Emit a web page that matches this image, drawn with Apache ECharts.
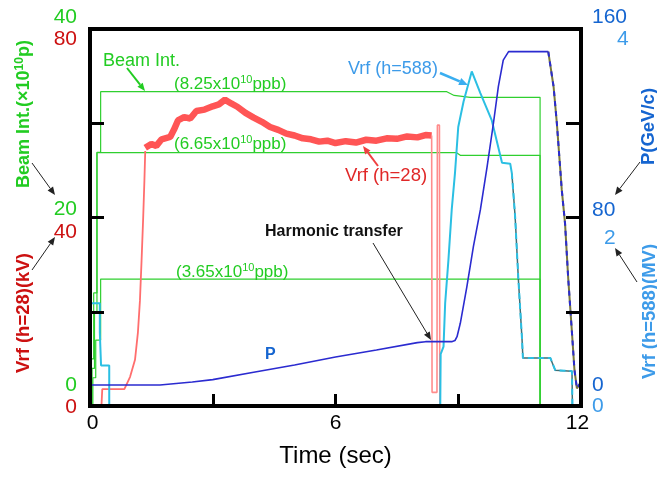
<!DOCTYPE html>
<html><head><meta charset="utf-8">
<script src="https://cdn.jsdelivr.net/npm/echarts@6/dist/echarts.min.js"></script>
<style>html,body{margin:0;padding:0;background:#fff}#c{width:657px;height:477px}</style>
</head><body><div id="c"></div>
<script>
const FONT = "'Liberation Sans', Arial, sans-serif";

// ---- axis tick labels ----
const xTickLabels = {0: '0', 6: '6', 12: '12'};
const beamTickLabels = {0: '0', 20: '20', 40: '40'};
const vrf28TickLabels = {0: '0', 40: '40', 80: '80'};
const pTickLabels = {0: '0', 80: '80', 160: '160'};
const vrf588TickLabels = {0: '0', 2: '2', 4: '4'};

// ---- Beam intensity (x10^10 p), three runs ----
const beamHigh = [[0,0],[0.03,0],[0.03,5],[0.09,5],[0.09,12],[0.17,12],[0.17,26.9],[0.26,26.9],[0.26,33.35],[8.72,33.35],[8.9,32.95],[9.29,32.75],[11.0,32.75],[11.0,0],[12,0]];
const beamMid = [[0,0],[0.05,0],[0.05,4],[0.11,4],[0.11,10],[0.17,10],[0.17,26.88],[8.96,26.88],[9.05,26.6],[11.0,26.6],[11.0,0],[12,0]];
const beamLow = [[0,0],[0.07,0],[0.07,3],[0.14,3],[0.14,7],[0.26,7],[0.26,13.47],[11.0,13.47],[11.0,0],[12,0]];

// ---- Vrf (h=28) kV ----
const vrf28Rise = [[0,0],[0.28,0],[0.30,3.6],[0.84,3.6],[0.98,6.2],[1.1,9.8],[1.17,15.5],[1.22,22.3],[1.26,30.8],[1.30,40],[1.33,47.9],[1.35,54.1]];
const vrf28Plateau = [[1.35,54.8],[1.5,55.6],[1.62,55.2],[1.75,56.6],[1.96,57.1],[2.05,58.6],[2.15,60.6],[2.3,61.3],[2.45,61.0],[2.6,62.6],[2.8,62.9],[3.0,63.6],[3.15,64.0],[3.3,65.0],[3.45,64.2],[3.6,63.5],[3.8,62.2],[4.0,61.2],[4.2,60.3],[4.4,59.2],[4.6,58.6],[4.8,57.8],[5.0,57.4],[5.2,56.8],[5.4,56.6],[5.6,56.1],[5.8,56.3],[6.0,55.8],[6.25,56.2],[6.5,55.9],[6.75,56.5],[7.0,56.3],[7.25,56.8],[7.5,56.7],[7.75,57.2],[8.0,57.0],[8.2,57.5],[8.35,57.4]];
const vrf28Transfer = [[8.35,57.4],[8.36,2.9],[8.48,2.9],[8.49,59.6],[8.54,59.6],[8.55,0],[12,0]];

// ---- Vrf (h=588) MV ----
const vrf588Main = [[0,1.09],[0.24,1.09],[0.24,0.78],[0.27,0.78],[0.27,0.43],[0.47,0.43],[0.47,0],[8.56,0],[8.57,0.55],[8.64,0.63],[8.68,1.09],[8.76,1.55],[8.84,2.08],[8.92,2.47],[9.0,2.96],[9.13,3.23],[9.33,3.55],[9.54,3.32],[9.82,3.03],[10.07,2.58],[10.27,2.57],[10.31,2.47]];
const vrf588Tail = [[10.31,2.47],[10.39,2.01],[10.47,1.34],[10.56,0.70],[10.58,0.51],[11.25,0.51],[11.37,0.38],[11.78,0.37],[11.79,0],[12,0]];

// ---- P (GeV/c) ----
const pMain = [[0,8.9],[1.71,8.9],[1.72,9.5],[2.5,10.2],[3.0,11.2],[4.0,14.3],[5.0,17.4],[6.0,20.8],[7.0,23.8],[8.0,26.9],[8.2,27.3],[8.84,27.3],[8.92,27.8],[8.97,29.4],[9.05,35.1],[9.21,50.6],[9.37,67.6],[9.54,83.2],[9.70,101],[9.86,120],[9.98,135.5],[10.1,146.8],[10.23,150.4],[11.2,150.4]];
const pTail = [[11.2,150.4],[11.33,135.5],[11.41,120],[11.53,91.7],[11.61,77.5],[11.69,53.5],[11.78,30.9],[11.84,15.3],[11.9,7.5],[11.98,9.6]];

const GREEN = '#22cc22', RED = '#cc1111', PBLUE = '#1565d0', LBLUE = '#3d9be9';

function labelAxis(map, color, styles, align) {
  const rich = {};
  Object.keys(styles).forEach(k => {
    rich['v' + k] = {fontSize: 21, fontFamily: FONT, color: color, padding: styles[k], align: align};
  });
  return {
    show: true, showMinLabel: true, showMaxLabel: true,
    fontSize: 21, fontFamily: FONT, color: color,
    formatter: v => (map[v] !== undefined ? '{v' + v + '|' + map[v] + '}' : ''),
    rich: rich
  };
}

function arrow(x1, y1, x2, y2, color, w, head) {
  const L = head || 8, W = L * 0.42;
  const a = Math.atan2(y2 - y1, x2 - x1);
  const bx = x2 - L * Math.cos(a), by = y2 - L * Math.sin(a);
  const px = -Math.sin(a) * W, py = Math.cos(a) * W;
  return [
    {type: 'line', z: 100, shape: {x1: x1, y1: y1, x2: bx, y2: by}, style: {stroke: color, lineWidth: w}},
    {type: 'polygon', z: 100, shape: {points: [[x2, y2], [bx + px, by + py], [bx - px, by - py]]}, style: {fill: color}}
  ];
}
function txt(x, y, text, rich, align, rot) {
  return {type: 'text', z: 100, x: x, y: y, rotation: rot || 0,
    style: {text: text, rich: rich, align: align || 'left', verticalAlign: 'middle', textAlign: align || 'left', textVerticalAlign: 'middle'}};
}
function supRich(color, size, supSize, weight) {
  return {
    n: {fontSize: size, fontFamily: FONT, fontWeight: weight || 'normal', fill: color, color: color, lineHeight: size + 2, verticalAlign: 'middle'},
    s: {fontSize: supSize, fontFamily: FONT, fontWeight: weight || 'normal', fill: color, color: color, lineHeight: supSize, verticalAlign: 'top'}
  };
}

const chart = echarts.init(document.getElementById('c'), null, {renderer: 'canvas'});

function line(data, yIdx, color, width, extra) {
  return Object.assign({
    type: 'line', data: data, xAxisIndex: 0, yAxisIndex: yIdx, showSymbol: false, symbol: 'none',
    lineStyle: {color: color, width: width}, silent: true, animation: false, z: 2
  }, extra || {});
}

const graphics = [].concat(
  // axis titles
  txt(24, 114, '{n|Beam Int.(×10}{s|10}{n|p)}', supRich(GREEN, 18, 12, 'bold'), 'center', Math.PI / 2),
  txt(24, 313, '{n|Vrf (h=28)(kV)}', supRich(RED, 18.5, 12, 'bold'), 'center', Math.PI / 2),
  txt(649, 126.5, '{n|P(GeV/c)}', supRich(PBLUE, 18.5, 12, 'bold'), 'center', Math.PI / 2),
  txt(649.5, 311.5, '{n|Vrf (h=588)(MV)}', supRich(LBLUE, 18.5, 12, 'bold'), 'center', Math.PI / 2),
  arrow(32, 163, 55, 195, '#222', 1, 8),
  arrow(32, 270, 55, 237, '#222', 1, 8),
  arrow(640, 162, 615, 195, '#222', 1, 8),
  arrow(637, 282, 615, 248, '#222', 1, 8),
  // in-plot annotations
  txt(103, 61, '{n|Beam Int.}', supRich(GREEN, 18, 11), 'left'),
  arrow(127, 68, 145, 91, GREEN, 2, 8),
  txt(174, 84, '{n|(8.25x10}{s|10}{n|ppb)}', supRich(GREEN, 17, 11), 'left'),
  txt(174, 144, '{n|(6.65x10}{s|10}{n|ppb)}', supRich(GREEN, 17, 11), 'left'),
  txt(176, 272, '{n|(3.65x10}{s|10}{n|ppb)}', supRich(GREEN, 17, 11), 'left'),
  txt(345, 176, '{n|Vrf (h=28)}', supRich('#e02828', 18.5, 11), 'left'),
  arrow(378, 166, 363, 146, '#f04040', 2, 8),
  txt(348, 69, '{n|Vrf (h=588)}', supRich(LBLUE, 18, 11), 'left'),
  arrow(440, 73, 468, 85, '#3aaef0', 2.5, 9),
  txt(265, 232, '{n|Harmonic transfer}', supRich('#111', 16, 11, 'bold'), 'left'),
  arrow(373, 243, 431, 340, '#222', 1, 8),
  txt(265, 355, '{n|P}', supRich(PBLUE, 16, 11, 'bold'), 'left')
);

chart.setOption({
  animation: false,
  backgroundColor: '#fff',
  grid: {left: 90, right: 76, top: 29, bottom: 71, show: true, borderColor: '#000', borderWidth: 4, backgroundColor: 'transparent', containLabel: false, outerBoundsMode: 'none'},
  xAxis: [
    {type: 'value', min: 0, max: 12, interval: 3, position: 'bottom', z: 10,
      axisLine: {show: true, lineStyle: {color: '#000', width: 4}},
      axisTick: {show: true, inside: true, length: 12, lineStyle: {color: '#000', width: 3}},
      splitLine: {show: false},
      axisLabel: {show: true, fontSize: 21, fontFamily: FONT, color: '#000', margin: 7,
        formatter: v => (xTickLabels[v] !== undefined ? '{v' + v + '|' + xTickLabels[v] + '}' : ''),
        rich: {
          v0: {fontSize: 21, fontFamily: FONT, color: '#000', padding: [0, 0, 0, 5]},
          v6: {fontSize: 21, fontFamily: FONT, color: '#000'},
          v12: {fontSize: 21, fontFamily: FONT, color: '#000', padding: [0, 7, 0, 0]}
        }},
      name: 'Time (sec)', nameLocation: 'middle', nameGap: 38,
      nameTextStyle: {fontSize: 24, fontFamily: FONT, color: '#000'}},
    {type: 'value', min: 0, max: 12, position: 'top', z: 10,
      axisLine: {show: true, lineStyle: {color: '#000', width: 4}},
      axisTick: {show: false}, axisLabel: {show: false}, splitLine: {show: false}}
  ],
  yAxis: [
    {type: 'value', min: 0, max: 80, interval: 20, position: 'left', z: 10,
      axisLine: {show: true, lineStyle: {color: '#000', width: 4}},
      axisTick: {show: true, inside: true, length: 14, lineStyle: {color: '#000', width: 3}},
      splitLine: {show: false},
      axisLabel: Object.assign(labelAxis(vrf28TickLabels, RED, {0: [2, 0, 0, 0], 40: [29, 0, 0, 0], 80: [21, 0, 0, 0]}, 'right'), {margin: 13})},
    {type: 'value', min: 0, max: 40, interval: 20, position: 'left', z: 10,
      axisLine: {show: false}, axisTick: {show: false}, splitLine: {show: false},
      axisLabel: Object.assign(labelAxis(beamTickLabels, GREEN, {0: [0, 0, 42, 0], 20: [0, 0, 17, 0], 40: [0, 0, 23, 0]}, 'right'), {margin: 13})},
    {type: 'value', min: 0, max: 160, interval: 80, position: 'right', z: 10,
      axisLine: {show: false}, axisTick: {show: false}, splitLine: {show: false},
      axisLabel: Object.assign(labelAxis(pTickLabels, PBLUE, {0: [0, 0, 42, 0], 80: [0, 0, 15, 0], 160: [0, 0, 24, 0]}, 'left'), {margin: 11})},
    {type: 'value', min: 0, max: 4, interval: 1, position: 'right', z: 10,
      axisLine: {show: true, lineStyle: {color: '#000', width: 4}},
      axisTick: {show: true, inside: true, length: 15, lineStyle: {color: '#000', width: 3}},
      splitLine: {show: false},
      axisLabel: Object.assign(labelAxis(vrf588TickLabels, LBLUE, {0: [0, 0, 0, 0], 2: [41, 0, 0, 12], 4: [21, 0, 0, 25]}, 'left'), {margin: 11})}
  ],
  series: [
    line(beamLow, 1, '#2fcf2f', 1.2),
    line(beamMid, 1, '#2fcf2f', 1.2),
    line(beamHigh, 1, '#2fcf2f', 1.2),
    line(vrf28Rise, 0, '#ff6e6e', 1.8),
    line(vrf28Plateau, 0, '#ff5555', 6.5),
    line(vrf28Transfer, 0, '#ff8c8c', 1.6),
    line(vrf588Main, 3, '#2bbfe3', 2),
    line(vrf588Tail, 3, '#3f6f75', 1.5),
    line(vrf588Tail, 3, '#2bbfe3', 2, {lineStyle: {color: '#2bbfe3', width: 2, type: [6, 4]}}),
    line(pMain, 2, '#2b2bd0', 1.6),
    line(pTail, 2, '#77773c', 2),
    line(pTail, 2, '#2b2bd0', 2, {lineStyle: {color: '#2b2bd0', width: 2, type: [5, 5]}})
  ],
  graphic: graphics
});
</script>
</body></html>
